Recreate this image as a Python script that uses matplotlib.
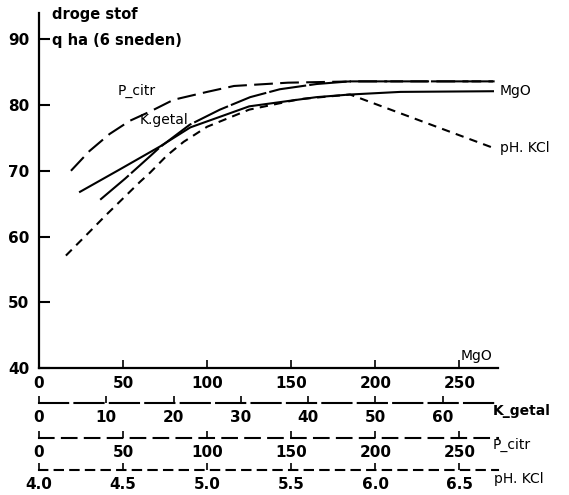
import numpy as np
import matplotlib
matplotlib.use('Agg')
import matplotlib.pyplot as plt

# curve data, each in the units of its own bottom scale
p_citr_x = [19, 30, 42, 54, 66, 80, 100, 116, 148, 188, 230, 271]
p_citr_y = [70, 73, 75.6, 77.6, 79, 80.8, 82, 82.9, 83.4, 83.6, 83.6, 83.6]

k_getal_x = [9.1, 12.8, 16.5, 18, 22.4, 26.9, 31.4, 35.8, 41.3, 46.2, 56.6, 67.5]
k_getal_y = [65.6, 68.8, 72.2, 73.6, 77.0, 79.3, 81.2, 82.4, 83.2, 83.6, 83.6, 83.6]

mgo_x = [24.4, 48, 72, 90, 125, 165, 185, 215, 270]
mgo_y = [66.8, 70.2, 73.7, 76.6, 79.8, 81.2, 81.6, 82.0, 82.1]

ph_x = [4.16, 4.30, 4.40, 4.48, 4.60, 4.66, 4.76, 4.86, 5.00, 5.25, 5.55, 5.85, 6.28, 6.70]
ph_y = [57.1, 60.7, 63.3, 65.3, 68.3, 69.7, 72.3, 74.4, 76.7, 79.3, 80.9, 81.6, 77.5, 73.5]

y_ticks = [40, 50, 60, 70, 80, 90]
mgo_ticks = [0, 50, 100, 150, 200, 250]
k_ticks = [0, 10, 20, 30, 40, 50, 60]
p_ticks = [0, 50, 100, 150, 200, 250]
ph_ticks = [4.0, 4.5, 5.0, 5.5, 6.0, 6.5]


# scale conversions (MgO axis is the main one)
def k_fwd(u):
    return np.asarray(u) / 4.0


def k_inv(k):
    return np.asarray(k) * 4.0


def p_fwd(u):
    return np.asarray(u) * 1.0


def p_inv(p):
    return np.asarray(p) * 1.0


def ph_fwd(u):
    return 4.0 + np.asarray(u) / 100.0


def ph_inv(p):
    return (np.asarray(p) - 4.0) * 100.0


W, H = 569, 495
fig = plt.figure(figsize=(W / 100, H / 100), dpi=100)
ax = fig.add_axes([39 / W, 1 - 368 / H, (498 - 39) / W, (368 - 13) / H])
ax.set_xlim(0, 273)
ax.set_ylim(40, 94)

for s in ['top', 'right']:
    ax.spines[s].set_visible(False)
for s in ['left', 'bottom']:
    ax.spines[s].set_linewidth(1.6)

lw = 1.5
ax.plot(p_inv(p_citr_x), p_citr_y, color='black', lw=lw, dashes=(9, 3.5))
ax.plot(k_inv(k_getal_x), k_getal_y, color='black', lw=lw, dashes=(18, 1.5))
ax.plot(mgo_x, mgo_y, color='black', lw=lw)
ax.plot(ph_inv(ph_x), ph_y, color='black', lw=lw, dashes=(4, 3))

tick_font = dict(fontsize=11, fontweight='bold')
ax.set_yticks(y_ticks)
ax.set_yticklabels([str(t) for t in y_ticks], **tick_font)
ax.set_xticks(mgo_ticks)
ax.set_xticklabels([str(t) for t in mgo_ticks], **tick_font)
ax.tick_params(axis='y', direction='in', length=8, width=1.5, pad=7)
ax.tick_params(axis='x', direction='in', length=6, width=1.2, pad=6)

axes_h = 368 - 13
scales = [
    ((-(403 - 368) / axes_h), (k_fwd, k_inv), k_ticks, [str(t) for t in k_ticks], (0, (14, 3))),
    ((-(438 - 368) / axes_h), (p_fwd, p_inv), p_ticks, [str(t) for t in p_ticks], (0, (7, 4))),
    ((-(470 - 368) / axes_h), (ph_fwd, ph_inv), ph_ticks, ['%.1f' % t for t in ph_ticks], (0, (4, 3.5))),
]
for loc, funcs, ticks, labels, ls in scales:
    sec = ax.secondary_xaxis(loc, functions=funcs)
    sec.set_xticks(ticks)
    sec.set_xticklabels(labels, **tick_font)
    sec.tick_params(axis='x', direction='in', length=5, width=1.2, pad=5)
    sec.spines['bottom'].set_linestyle(ls)
    sec.spines['bottom'].set_linewidth(1.5)

# curve labels
lab = dict(fontsize=10, color='black', va='center', clip_on=False)
ax.text(47, 82.2, 'P_citr', **lab)
ax.text(60, 77.8, 'K.getal', **lab)
ax.text(274, 82.1, 'MgO', **lab)
ax.text(274, 73.4, 'pH. KCl', **lab)
ax.text(251, 41.8, 'MgO', **lab)

fig.text(493 / W, 1 - 411 / H, 'K_getal', fontsize=10, fontweight='bold', va='center')
fig.text(493 / W, 1 - 445 / H, 'P_citr', fontsize=10, va='center')
fig.text(494 / W, 1 - 479 / H, 'pH. KCl', fontsize=10, va='center')

fig.text(52 / W, 1 - 15 / H, 'droge stof', fontsize=10.5, fontweight='bold', va='center')
fig.text(52 / W, 1 - 40 / H, 'q ha (6 sneden)', fontsize=10.5, fontweight='bold', va='center')

fig.savefig('out.png', dpi=100)
